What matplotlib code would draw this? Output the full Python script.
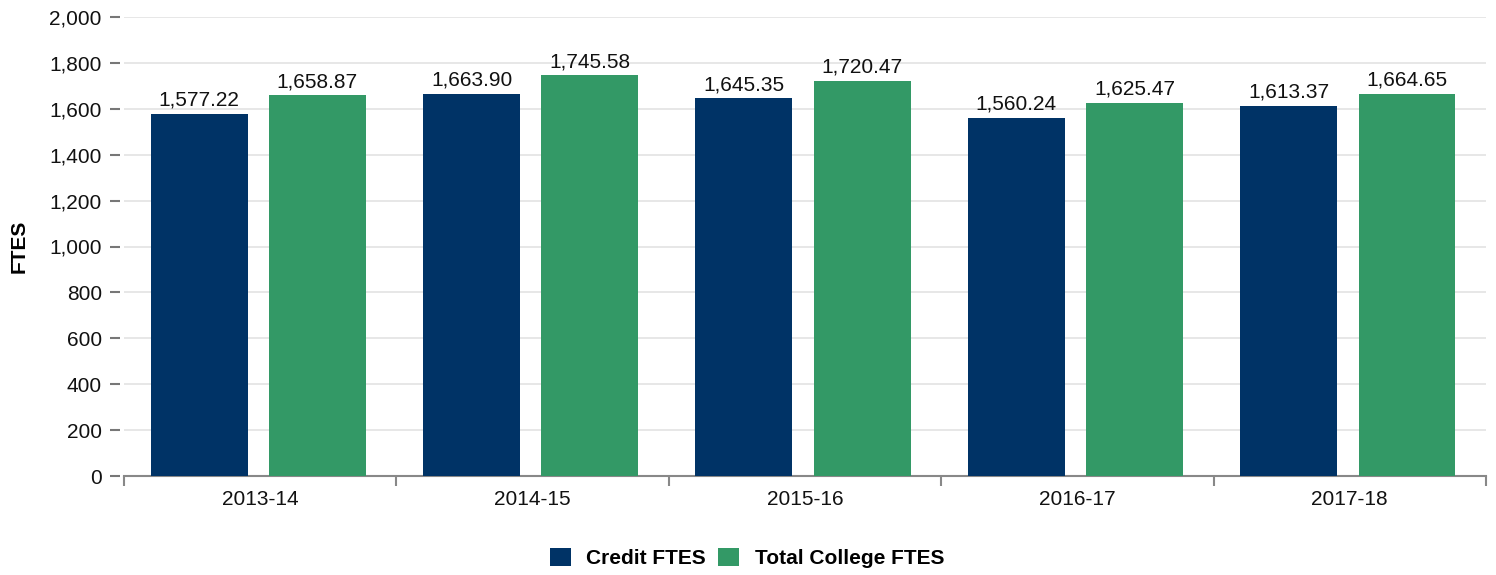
import matplotlib
matplotlib.use("Agg")
import matplotlib.pyplot as plt
import numpy as np

categories = ["2013-14", "2014-15", "2015-16", "2016-17", "2017-18"]
credit_ftes = [1577.22, 1663.90, 1645.35, 1560.24, 1613.37]
total_ftes = [1658.87, 1745.58, 1720.47, 1625.47, 1664.65]
series_names = ["Credit FTES", "Total College FTES"]
colors = ["#003366", "#339966"]

plt.rcParams['font.family'] = ['Liberation Sans', 'DejaVu Sans']

fig = plt.figure(figsize=(14.96, 5.75), dpi=100)
ax = fig.add_axes([124/1496, 1-476/575, (1486-124)/1496, (476-17)/575])

x = np.arange(len(categories))
w = 0.356
b1 = ax.bar(x - 0.224, credit_ftes, w, color=colors[0], label=series_names[0], zorder=3)
b2 = ax.bar(x + 0.210, total_ftes, w, color=colors[1], label=series_names[1], zorder=3)

for bars, vals in ((b1, credit_ftes), (b2, total_ftes)):
    for r, v in zip(bars, vals):
        ax.annotate(f"{v:,.2f}", (r.get_x() + r.get_width()/2, v),
                    xytext=(0, 3), textcoords="offset points",
                    ha="center", va="bottom", fontsize=15, color="#111111")

ax.set_xlim(-0.5, len(categories) - 0.5)
ax.set_ylim(0, 2000)
ax.set_yticks(np.arange(0, 2001, 200))
ax.set_yticklabels([f"{v:,}" for v in range(0, 2001, 200)])
ax.yaxis.grid(True, color="#e3e3e3", linewidth=1.2, zorder=0)
ax.set_axisbelow(True)

for s in ("top", "right"):
    ax.spines[s].set_visible(False)
ax.spines["left"].set_position(("outward", 3))
ax.spines["left"].set_color("none")
ax.spines["bottom"].set_color("#888888")
ax.spines["bottom"].set_linewidth(1.5)

ax.tick_params(axis="y", length=7, width=1.5, color="#777777", labelsize=15, pad=6, labelcolor="#111111")
ax.set_xticks(x)
ax.set_xticklabels(categories)
ax.tick_params(axis="x", which="major", length=0, labelsize=15, pad=10, labelcolor="#111111")
ax.set_xticks(np.arange(-0.5, len(categories)), minor=True)
ax.tick_params(axis="x", which="minor", length=7, width=1.5, color="#888888")

ax.set_ylabel("FTES", fontsize=15, fontweight="bold", labelpad=15)

leg = fig.legend(handles=[b1, b2], labels=series_names, loc="center",
                 bbox_to_anchor=(747/1496, 1-558/575), ncol=2, frameon=False,
                 prop={"size": 15, "weight": "bold"}, handlelength=1.0, handleheight=1.0,
                 handletextpad=0.75, columnspacing=0.6)

fig.savefig("out.png", dpi=100)
